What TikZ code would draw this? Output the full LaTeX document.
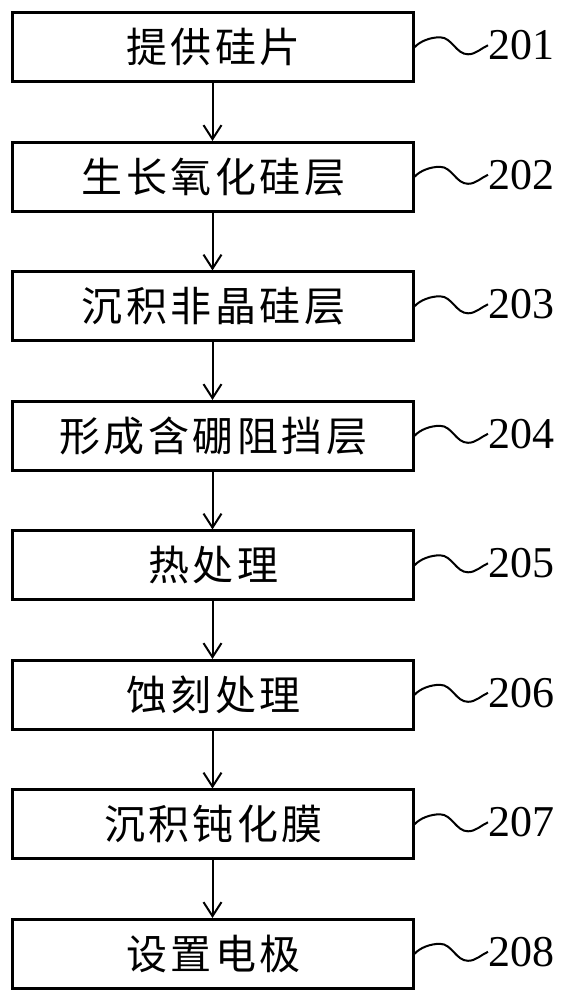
\documentclass[tikz,border=0pt]{standalone}
\usepackage{fontspec}
\setmainfont{Liberation Serif}
\newfontfamily\cjk[LetterSpace=8.5]{Noto Sans CJK SC}
\usetikzlibrary{arrows.meta}
\begin{document}
\begin{tikzpicture}[x=1pt,y=-1pt,
  stepbox/.style={draw,line width=3pt,minimum width=401pt,minimum height=68.7pt,inner sep=0pt,
    font=\cjk\fontsize{41}{43}\selectfont},
  numlabel/.style={anchor=west,inner sep=0pt,font=\fontsize{44}{46}\selectfont},
  flow/.style={line width=2pt,-{Straight Barb[length=14pt,width=18pt]}},
  leader/.style={line width=2pt}]
\useasboundingbox (0,0) rectangle (569,1000);
\foreach \i/\t in {1/提供硅片,2/生长氧化硅层,3/沉积非晶硅层,4/形成含硼阻挡层,5/热处理,6/蚀刻处理,7/沉积钝化膜,8/设置电极}{
  \pgfmathsetmacro{\c}{47.3+129.5*(\i-1)}
  \node[stepbox] (b\i) at (212.5,\c) {\raisebox{-3pt}{\hspace{2pt}\t}};
  \node[numlabel] (n\i) at (488,\c-2) {20\i};
  \draw[leader] (b\i.east) .. controls (420,\c-6) and (430,\c-10) .. (440,\c-10)
     .. controls (452,\c-10) and (456,\c+7) .. (468,\c+7)
     .. controls (476,\c+7) and (481,\c+1) .. (n\i.west);
}
\foreach \i [evaluate=\i as \j using int(\i+1)] in {1,...,7}{
  \draw[flow] (b\i) -- (b\j);
}
\end{tikzpicture}
\end{document}
